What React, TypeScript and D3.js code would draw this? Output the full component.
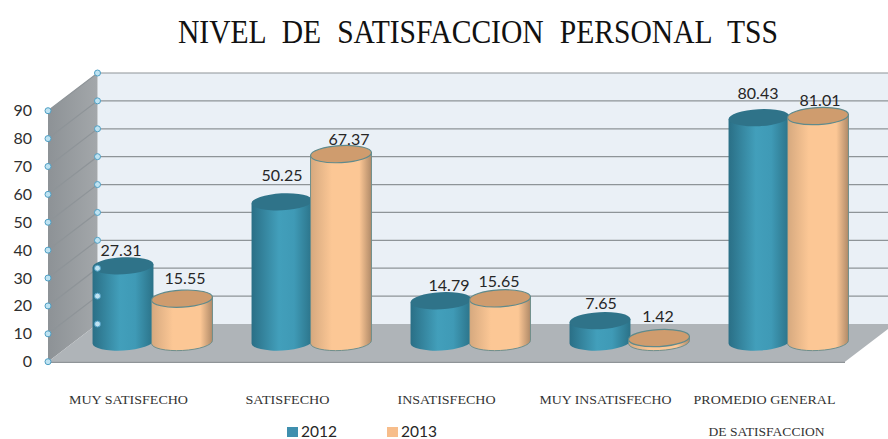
import React from 'react';
import * as d3 from 'd3';

const categories = ['MUY SATISFECHO', 'SATISFECHO', 'INSATISFECHO', 'MUY INSATISFECHO', 'PROMEDIO GENERAL'];
const years = ['2012', '2013'];
const values2012 = [27.31, 50.25, 14.79, 7.65, 80.43];
const values2013 = [15.55, 67.37, 15.65, 1.42, 81.01];
const ticks = [0, 10, 20, 30, 40, 50, 60, 70, 80, 90];

const width = 888;
const height = 439;

// depth of the fake 3d box
const depthX = 49.5;
const depthY = -37.7;
const floorRight = 845;
const frontLeft = 48;

const y = d3.scaleLinear().domain([0, 90]).range([361.7, 110.7]);
const x0 = d3.scaleBand().domain(categories).range([73, 868]);
const x1 = d3.scaleBand().domain(years).range([-59, 59]);

const baseY = 342;
const rx = 30.5;
const ry = 8.5;
const tilt = -3;

// hand placed label offsets, the original labels were not centered on the bars
const labelLift = [
  [16, 21],
  [27, 15],
  [16, 17],
  [18, 22],
  [25, 16],
];
const labelShift = [
  [-2, 3],
  [0, 8],
  [8, -1],
  [1, -1],
  [-1, 2],
];
const categoryWidths = [119, 84, 98, 132, 142];

const Cylinder = ({ cx, value, year }: { cx: number; value: number; year: string }) => {
  const h = y(0) - y(value);
  const top = baseY - h;
  const orange = year === '2013';
  const rad = (tilt * Math.PI) / 180;
  const dx = Math.cos(rad) * rx;
  const dy = Math.sin(rad) * rx;
  const body = `M${cx - dx},${top - dy} L${cx - dx},${baseY - dy} A${rx},${ry} ${tilt} 0 0 ${cx + dx},${baseY + dy} L${cx + dx},${top + dy} Z`;
  return (
    <g>
      <path d={body} fill={orange ? 'url(#bodyOrange)' : 'url(#bodyBlue)'} stroke={orange ? '#6f8f8c' : 'none'} strokeWidth={1} />
      <ellipse
        cx={cx}
        cy={top}
        rx={rx}
        ry={ry}
        transform={`rotate(${tilt} ${cx} ${top})`}
        fill={orange ? '#cf9c6e' : '#2f7389'}
        stroke={orange ? '#5f8a8c' : 'none'}
        strokeWidth={1.2}
      />
    </g>
  );
};

export default function App() {
  const wall = (v: number) => `M${frontLeft},${y(v)} L${frontLeft + depthX},${y(v) + depthY} L${width},${y(v) + depthY}`;
  const center = (c: string) => x0(c)! + x0.bandwidth() / 2;
  const barX = (c: string, yr: string) => center(c) + x1(yr)! + x1.bandwidth() / 2;

  return (
    <svg
      width={width}
      height={height}
      style={{ position: 'absolute', left: 0, top: 0, background: '#fff' }}
      fontFamily="Lato, sans-serif"
    >
      <defs>
        <linearGradient id="bodyBlue">
          <stop offset="0" stopColor="#2a6f86" />
          <stop offset="0.45" stopColor="#429fbb" />
          <stop offset="0.7" stopColor="#3f9ab6" />
          <stop offset="1" stopColor="#2b7288" />
        </linearGradient>
        <linearGradient id="bodyOrange">
          <stop offset="0" stopColor="#d6a97f" />
          <stop offset="0.35" stopColor="#fcc795" />
          <stop offset="0.8" stopColor="#fcc795" />
          <stop offset="1" stopColor="#b08a68" />
        </linearGradient>
        <linearGradient id="sideWall" x1="0" y1="0" x2="1" y2="0">
          <stop offset="0" stopColor="#8d9296" />
          <stop offset="1" stopColor="#a3a7aa" />
        </linearGradient>
      </defs>

      <path
        d={`M${frontLeft + depthX},${y(90) + depthY} H${width} V${y(0) + depthY} H${frontLeft + depthX} Z`}
        fill="#eaf0f6"
      />
      <path
        d={`M${frontLeft},${y(90)} L${frontLeft + depthX},${y(90) + depthY} V${y(0) + depthY} L${frontLeft},${y(0)} Z`}
        fill="url(#sideWall)"
      />
      <path
        d={`M${frontLeft},${y(0)} L${frontLeft + depthX},${y(0) + depthY} H${width} V${y(0) + depthY + 5} L${floorRight},${y(0)} Z`}
        fill="#afb4b8"
      />
      <line x1={frontLeft} x2={floorRight} y1={y(0) + 0.5} y2={y(0) + 0.5} stroke="#8f9498" strokeWidth={1.5} />

      {ticks.slice(1).map((t) => (
        <path key={t} d={wall(t)} fill="none" stroke="#8e9498" strokeWidth={1.2} />
      ))}

      {categories.map((c, i) => (
        <g key={c}>
          <Cylinder cx={barX(c, '2012')} value={values2012[i]} year="2012" />
          <Cylinder cx={barX(c, '2013')} value={values2013[i]} year="2013" />
        </g>
      ))}

      {ticks.map((t) => (
        <g key={t}>
          <circle cx={frontLeft} cy={y(t)} r={3} fill="#bfe3f2" stroke="#4f9fc4" strokeWidth={1} />
          <circle cx={frontLeft + depthX} cy={y(t) + depthY} r={3} fill="#bfe3f2" stroke="#4f9fc4" strokeWidth={1} />
          <text x={32} y={y(t) + 5.5} textAnchor="end" fontSize={16} fill="#2f2f2f">
            {t}
          </text>
        </g>
      ))}

      {categories.map((c, i) =>
        [values2012[i], values2013[i]].map((v, j) => (
          <text
            key={years[j]}
            x={barX(c, years[j]) + labelShift[i][j]}
            y={baseY - (y(0) - y(v)) - labelLift[i][j] + 6}
            textAnchor="middle"
            fontSize={16}
            fill="#262626"
          >
            {v.toFixed(2)}
          </text>
        ))
      )}

      <text
        transform="translate(478,43) scale(0.87,1)"
        textAnchor="middle"
        fontFamily="'Liberation Serif', serif"
        fontSize={34}
        fill="#111"
        wordSpacing={10}
      >
        NIVEL DE SATISFACCION PERSONAL TSS
      </text>

      {categories.map((c, i) => (
        <text
          key={c}
          x={center(c) - 24}
          y={404}
          textAnchor="middle"
          fontFamily="'Liberation Serif', serif"
          fontSize={13}
          fill="#333"
          textLength={categoryWidths[i]}
          lengthAdjust="spacingAndGlyphs"
        >
          {c}
        </text>
      ))}
      <text
        x={center(categories[4]) - 22}
        y={436}
        textAnchor="middle"
        fontFamily="'Liberation Serif', serif"
        fontSize={13}
        fill="#333"
        textLength={116}
        lengthAdjust="spacingAndGlyphs"
      >
        DE SATISFACCION
      </text>

      <rect x={287} y={427} width={11} height={10} fill="#3f8fae" />
      <text x={301} y={437} fontSize={15.5} fill="#262626">2012</text>
      <rect x={387} y={427} width={11} height={10} fill="#f7bd8b" />
      <text x={401} y={437} fontSize={15.5} fill="#262626">2013</text>
    </svg>
  );
}
